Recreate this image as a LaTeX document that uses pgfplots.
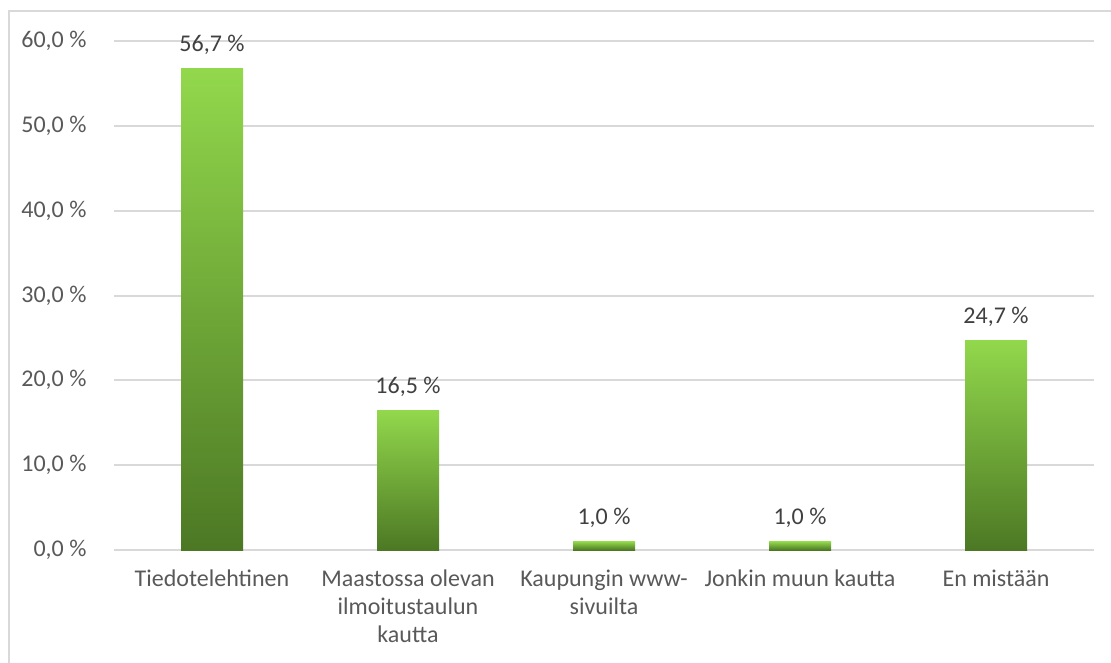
\documentclass[border=0pt]{standalone}
\usepackage{pgfplots}
\pgfplotsset{compat=1.18}
\usepackage{fontspec}
\setmainfont{Carlito}
\definecolor{gridgray}{HTML}{D9D9D9}
\definecolor{textgray}{HTML}{595959}
\definecolor{labelgray}{HTML}{404040}
\definecolor{bartop}{HTML}{92D84C}
\definecolor{barbottom}{HTML}{4C7824}
\pgfplotsset{greenbar/.style={ybar, bar width=62pt, bar shift=0pt, draw=none, mark=none, top color=bartop, bottom color=barbottom}}
\begin{document}
\begin{tikzpicture}
\path[use as bounding box] (0,0) rectangle (1111pt,662pt);
\draw[gridgray, line width=2pt] (9pt,-10pt) rectangle (1130pt,651pt);
\begin{axis}[
    at={(114pt,112pt)}, anchor=south west,
    scale only axis,
    width=980pt, height=509pt,
    xmin=-0.5, xmax=4.5,
    ymin=0, ymax=60,
    ytick={0,10,...,60},
    xtick={0,1,2,3,4},
    xticklabels={Tiedotelehtinen,{Maastossa olevan\\ilmoitustaulun\\kautta},{Kaupungin www-\\sivuilta},Jonkin muun kautta,En mistään},
    axis x line*=bottom,
    axis y line*=left,
    x axis line style={gridgray, line width=2pt},
    y axis line style={draw=none},
    major tick length=0pt,
    ymajorgrids=true,
    grid style={gridgray, line width=2pt},
    tick label style={font=\fontsize{24}{28}\selectfont, text=textgray},
    xticklabel style={align=center, anchor=north, yshift=-16pt},
    yticklabel style={anchor=east, xshift=-24pt},
    /pgf/number format/assume math mode=true,
    yticklabel={\pgfmathprintnumber[fixed,zerofill,precision=1,use comma]{\tick}~\%},
    nodes near coords={\pgfmathprintnumber[fixed,zerofill,precision=1,use comma]{\pgfplotspointmeta}~\%},
    every node near coord/.append style={font=\fontsize{24}{28}\selectfont, text=labelgray, anchor=base, inner sep=0pt, yshift=17pt},
    clip=false,
]
% one plot per bar so that each bar gets its own gradient
\addplot[greenbar] coordinates {(0,56.7)};
\addplot[greenbar] coordinates {(1,16.5)};
\addplot[greenbar] coordinates {(2,1.0)};
\addplot[greenbar] coordinates {(3,1.0)};
\addplot[greenbar] coordinates {(4,24.7)};
\end{axis}
\end{tikzpicture}
\end{document}
